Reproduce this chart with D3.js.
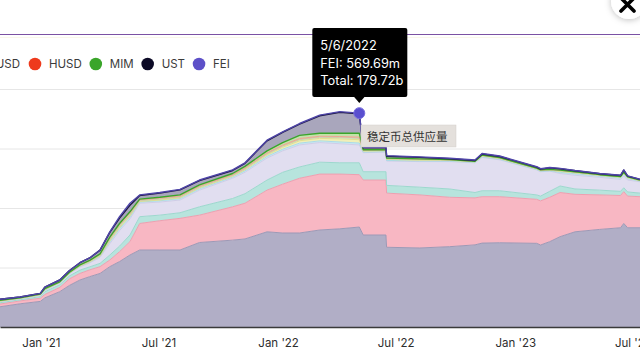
<!DOCTYPE html>
<html>
<head>
<meta charset="utf-8">
<script src="https://cdn.jsdelivr.net/npm/d3@7"></script>
<style>
  body { margin: 0; background: #fff; overflow: hidden; }
  svg { display: block; font-family: Inter, "Liberation Sans", Arial, sans-serif; }
</style>
</head>
<body>
<svg id="chart" width="640" height="354"></svg>
<script>
// supply per coin, in billions
const dates = ['2020-10-30','2020-11-30','2020-12-31','2021-01-07','2021-01-30','2021-02-14','2021-03-02','2021-03-17','2021-04-02','2021-04-17','2021-05-02','2021-05-18','2021-06-02','2021-07-03','2021-08-03','2021-09-02','2021-10-23','2021-11-11','2021-12-15','2022-01-08','2022-02-03','2022-03-06','2022-04-06','2022-05-06','2022-05-12','2022-06-16','2022-06-17','2022-08-07','2022-09-22','2022-10-31','2022-11-11','2022-12-08','2023-02-03','2023-02-09','2023-02-23','2023-03-11','2023-04-03','2023-05-11','2023-06-12','2023-06-17','2023-06-23','2023-07-12'];

const USDT = [17.0,19.5,21.5,24.5,29.7,35.0,39.5,42.3,45.0,50.7,55.0,60.5,64.7,64.7,64.7,71.0,73.0,74.0,80.0,79.0,79.0,81.5,82.5,84.0,77.3,77.3,67.0,66.4,67.5,69.0,70.5,70.8,70.3,68.9,71.7,75.9,80.0,82.0,83.4,87.0,83.4,83.4];
const USDC = [2.3,2.4,2.7,2.8,3.6,5.5,5.5,5.7,5.7,5.6,8.3,11.2,22.3,24.6,26.6,23.0,28.0,30.0,35.0,41.0,46.0,47.0,46.0,44.0,46.2,46.2,45.5,44.6,41.5,39.5,39.0,38.7,37.0,37.1,37.3,37.1,31.5,29.0,27.1,26.7,26.6,26.1];
const DAI  = [1.1,1.0,1.3,2.3,2.2,2.5,2.8,2.5,2.8,4.2,4.7,5.6,5.7,4.7,4.7,7.0,7.0,8.0,8.5,10.0,9.5,10.0,9.5,10.0,7.0,7.0,6.5,6.5,7.0,4.5,5.0,5.0,3.7,4.0,5.0,5.5,4.5,4.0,3.5,3.3,3.5,3.0];
const BUSD = [0.9,0.8,1.0,1.1,1.5,1.8,2.7,3.3,5.0,9.5,13.0,13.5,11.3,11.0,10.7,14.0,17.0,18.0,18.5,18.0,18.5,16.5,16.0,15.0,16.0,16.5,20.5,21.5,23.0,25.0,28.0,26.0,21.0,20.5,17.0,10.5,11.5,10.8,10.0,10.0,10.0,9.5];
const TUSD = [0.35,0.3,0.35,0.45,0.3,0.35,0.5,0.6,0.8,1.5,1.6,1.6,1.0,1.1,1.2,1.2,1.0,1.2,1.4,1.4,1.5,1.4,1.5,1.6,0.5,0.4,0.5,0.5,0.4,0.3,0.5,0.4,0.3,0.3,0.3,1.0,1.3,1.0,1.2,1.4,1.3,0.5];
const FRAX = [0.05,0.05,0.1,0.15,0.1,0.15,0.2,0.25,0.4,0.8,0.9,0.9,0.5,0.6,0.6,0.7,0.7,0.9,1.2,1.6,2.0,2.1,2.6,2.8,0.9,0.7,0.8,0.7,0.6,0.4,0.6,0.6,0.5,0.5,0.5,0.7,0.7,0.5,0.5,0.6,0.5,0.4];
const USDP = [0.3,0.25,0.3,0.35,0.25,0.3,0.4,0.5,0.6,1.0,1.1,1.0,0.6,0.7,0.7,0.7,0.6,0.7,0.8,0.9,0.9,0.9,1.0,1.0,0.4,0.3,0.4,0.4,0.3,0.2,0.3,0.3,0.3,0.3,0.3,0.4,0.4,0.3,0.3,0.4,0.4,0.2];
const GUSD = [0.15,0.1,0.1,0.15,0.1,0.1,0.15,0.2,0.3,0.4,0.4,0.4,0.3,0.3,0.3,0.3,0.2,0.3,0.3,0.3,0.4,0.4,0.5,0.6,0.2,0.2,0.3,0.3,0.2,0.2,0.3,0.2,0.2,0.2,0.2,0.4,0.3,0.2,0.3,0.3,0.3,0.2];
const HUSD = [0.25,0.2,0.25,0.4,0.25,0.3,0.45,0.55,0.7,1.2,1.2,1.2,0.6,0.7,0.6,0.6,0.5,0.6,0.6,0.6,0.6,0.5,0.5,0.6,0.2,0.2,0.2,0.2,0.1,0.1,0.1,0.1,0.1,0.1,0.1,0.1,0.1,0.1,0.1,0.1,0.1,0.1];
const MIM  = [0,0,0,0,0,0,0,0.1,0.2,0.6,0.8,0.9,0.5,0.6,0.9,1.0,1.0,1.3,1.7,2.2,2.6,2.5,2.7,3.2,0.3,0.2,0.3,0.2,0.2,0.1,0.2,0.2,0.1,0.1,0.1,0.2,0.2,0.1,0.1,0.2,0.1,0.1];
const UST  = [0.9,0.6,0.7,1.3,1.5,1.5,1.8,2.0,3.1,4.0,4.5,5.5,3.0,3.5,4.2,3.5,2.5,2.5,8.5,8.5,9.5,14.7,17.6,16.35,1.5,1.5,1.5,1.2,0.6,0.6,0.9,1.0,0.8,0.7,1.2,1.2,0.8,0.8,0.8,1.8,0.6,0.5];
const FEI  = [0,0,0,0,0,0,0,0,0.1,0.5,1.2,1.7,0.5,0.5,0.5,0.5,0.5,0.5,0.5,0.5,0.5,0.5,0.6,0.56969,0.5,0.5,0.5,0.5,0.4,0.4,0.4,0.4,0.4,0.3,0.3,0.3,0.2,0.2,0.2,0.2,0.2,0.2];

const keys = ['USDT','USDC','DAI','BUSD','TUSD','FRAX','USDP','GUSD','HUSD','MIM','UST','FEI'];
const fills   = ['#b1aec6','#f8b7c3','#b7e4dd','#e1def0','#c9e9f2','#f0efb8','#dcecd2','#eadbc4','#f6c9be','#c2e2aa','#a9a6bc','#c6c0ec'];
const strokes = ['#9d99b6','#ee9fb0','#9dd8ce','#d0cce7','#a9dbe9','#e2df8e','#c2dcb4','#d8c3a4','#eea593','#3aa52a','#1b1740','#4f45a8'];

const legendNames  = ['USDT','USDC','DAI','BUSD','TUSD','FRAX','USDP','GUSD','HUSD','MIM','UST','FEI'];
const legendColors = ['#26a17b','#2775ca','#f5ac37','#f0b90b','#1a5aff','#222222','#00845d','#00dcfa','#ee3a1c','#3aa52a','#0c0a26','#5d50c8'];

const tickDates = ['2021-01-01','2021-07-01','2022-01-01','2022-07-01','2023-01-01','2023-07-01'];
const gridValues = [0, 50, 100, 150, 200];

const hoverDate = '2022-05-06';

let parse = d3.timeParse('%Y-%m-%d');
let svg = d3.select('#chart');
let width = 640;

let cols = { USDT, USDC, DAI, BUSD, TUSD, FRAX, USDP, GUSD, HUSD, MIM, UST, FEI };
let rows = dates.map((d, i) => {
  let r = { date: parse(d) };
  keys.forEach(k => r[k] = cols[k][i]);
  return r;
});

let x = d3.scaleTime()
  .domain([parse('2020-10-30'), parse('2023-07-12')])
  .range([0, width]);

let y = d3.scaleLinear()
  .domain([0, 200])
  .range([327, 89]);

// top purple rule
svg.append('line')
  .attr('x1', 0).attr('x2', width)
  .attr('y1', 34.5).attr('y2', 34.5)
  .attr('stroke', '#7b52a3')
  .attr('stroke-width', 1);
svg.append('line')
  .attr('x1', 0).attr('x2', width)
  .attr('y1', 37.5).attr('y2', 37.5)
  .attr('stroke', '#faf7ea')
  .attr('stroke-width', 1);

// gridlines (labels fall off the left edge)
svg.append('g')
  .attr('class', 'grid')
  .call(d3.axisLeft(y).tickValues(gridValues.slice(1)).tickSize(-width).tickFormat(''))
  .call(g => g.select('.domain').remove())
  .call(g => g.selectAll('line').attr('stroke', '#e6e6e6'));

let stack = d3.stack().keys(keys);
let layers = stack(rows);

let area = d3.area()
  .x(d => x(d.data.date))
  .y0(d => y(d[0]))
  .y1(d => y(d[1]));

let line = d3.line()
  .x(d => x(d.data.date))
  .y(d => y(d[1]));

svg.selectAll('.layer')
  .data(layers)
  .enter()
  .append('path')
  .attr('class', 'layer')
  .attr('d', area)
  .attr('fill', (d, i) => fills[i]);

svg.selectAll('.edge')
  .data(layers)
  .enter()
  .append('path')
  .attr('class', 'edge')
  .attr('d', line)
  .attr('fill', 'none')
  .attr('stroke', (d, i) => strokes[i])
  .attr('stroke-width', (d, i) => i >= 9 ? 1.4 : 1)
  .attr('stroke-linejoin', 'round');

// x axis
let xAxis = svg.append('g')
  .attr('transform', 'translate(0,' + y(0) + ')')
  .call(d3.axisBottom(x)
    .tickValues(tickDates.map(parse))
    .tickSize(0)
    .tickPadding(12)
    .tickFormat(d3.timeFormat("%b '%y")));
xAxis.select('.domain').attr('stroke', '#3a3a3a').attr('stroke-width', 1.5);
xAxis.selectAll('text')
  .attr('fill', '#2e2e2e')
  .style('font-size', '11.5px')
  .style('font-family', 'Inter, sans-serif');

// legend, positioned so that HUSD sits where it does in the shot
let legend = svg.append('g').attr('class', 'legend');
let anchor = legendNames.indexOf('HUSD');
let items = legendNames.map((name, i) => {
  let g = legend.append('g');
  g.append('circle').attr('r', 6.3).attr('cy', 64).attr('fill', legendColors[i]);
  let t = g.append('text')
    .attr('y', 68)
    .attr('fill', '#3b3b3b')
    .style('font-size', '11.5px')
    .text(name);
  return { g, w: t.node().getComputedTextLength() };
});
let cx = [];
cx[anchor] = 35;
for (let i = anchor + 1; i < items.length; i++) cx[i] = cx[i - 1] + 14 + items[i - 1].w + 14;
for (let i = anchor - 1; i >= 0; i--) cx[i] = cx[i + 1] - 14 - items[i].w - 15;
items.forEach((it, i) => {
  // items scrolled fully out of view are dropped
  if (cx[i] + 14 + it.w < 0) { it.g.remove(); return; }
  it.g.select('circle').attr('cx', cx[i]);
  it.g.select('text').attr('x', cx[i] + 14);
});

// hover marker + tooltip
let hi = dates.indexOf(hoverDate);
let hoverRow = rows[hi];
let total = d3.sum(keys, k => hoverRow[k]);
let hx = x(hoverRow.date), hy = y(total);

svg.append('circle')
  .attr('cx', hx).attr('cy', hy).attr('r', 5.5)
  .attr('fill', '#5a4fcf')
  .attr('stroke', '#7a70de')
  .attr('stroke-width', 1);

let tip = svg.append('g');
tip.append('rect')
  .attr('x', hx - 47).attr('y', 28)
  .attr('width', 95).attr('height', 69)
  .attr('rx', 2)
  .attr('fill', '#000');
tip.append('path')
  .attr('d', `M${hx - 6},96 L${hx + 6},96 L${hx},103 Z`)
  .attr('fill', '#000');
let tipLines = [
  d3.timeFormat('%-m/%-d/%Y')(hoverRow.date),
  'FEI: ' + (hoverRow.FEI * 1000).toFixed(2) + 'm',
  'Total: ' + total.toFixed(2) + 'b'
];
tip.selectAll('text')
  .data(tipLines)
  .enter()
  .append('text')
  .attr('x', hx - 39)
  .attr('y', (d, i) => 50 + i * 17.5)
  .attr('fill', '#fff')
  .style('font-size', '12.8px')
  .text(d => d);

// browser title tooltip
let title = svg.append('g');
title.append('rect')
  .attr('x', 361).attr('y', 125)
  .attr('width', 95).attr('height', 22)
  .attr('fill', '#e4e0dc')
  .attr('stroke', '#d3cfcb')
  .attr('stroke-width', 0.5);
title.append('text')
  .attr('x', 367).attr('y', 140.5)
  .attr('fill', '#333')
  .style('font-size', '11.5px')
  .style('font-family', '"Noto Sans CJK SC", sans-serif')
  .text('稳定币总供应量');

// close button in the corner
let defs = svg.append('defs');
let f = defs.append('filter').attr('id', 'sh').attr('x', '-50%').attr('y', '-50%').attr('width', '200%').attr('height', '200%');
f.append('feDropShadow').attr('dx', 0).attr('dy', 1).attr('stdDeviation', 3).attr('flood-opacity', 0.25);
svg.append('circle')
  .attr('cx', 629).attr('cy', 1).attr('r', 18)
  .attr('fill', '#fff')
  .attr('filter', 'url(#sh)');
svg.append('path')
  .attr('d', 'M621,-2 L634,11 M634,-2 L621,11')
  .attr('stroke', '#000')
  .attr('stroke-width', 3.6)
  .attr('stroke-linecap', 'round');
</script>
</body>
</html>
